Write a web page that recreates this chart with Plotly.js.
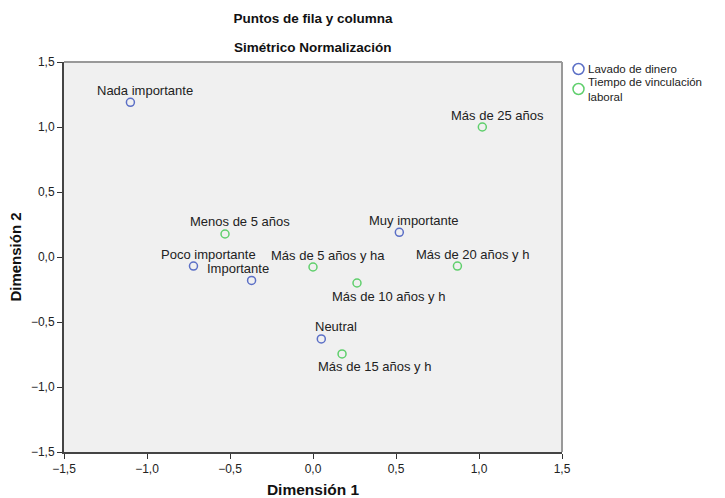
<!DOCTYPE html>
<html>
<head>
<meta charset="utf-8">
<script src="https://cdn.plot.ly/plotly-3.0.1.min.js"></script>
<style>html,body{margin:0;padding:0;background:#fff;}#chart{width:725px;height:498px;}</style>
</head>
<body>
<div id="chart"></div>
<script>
// Row points: Lavado de dinero
const rowLabels = ['Nada importante', 'Poco importante', 'Importante', 'Neutral', 'Muy importante'];
const rowX = [-1.10, -0.72, -0.37, 0.05, 0.52];
const rowY = [1.19, -0.07, -0.18, -0.63, 0.19];
// Column points: Tiempo de vinculación laboral
const colLabels = ['Menos de 5 años', 'Más de 5 años y ha', 'Más de 10 años y h', 'Más de 15 años y h', 'Más de 20 años y h', 'Más de 25 años'];
const colX = [-0.53, 0.00, 0.265, 0.175, 0.87, 1.02];
const colY = [0.177, -0.077, -0.20, -0.746, -0.07, 1.00];
// Axis ticks
const tickVals = [-1.5, -1.0, -0.5, 0.0, 0.5, 1.0, 1.5];
// Legend entries
const seriesNames = ['Lavado de dinero', 'Tiempo de vinculación laboral'];

// label placement styles (pixel offsets)
const rowLabelPos = ['above', 'above', 'aboveLeft', 'above', 'above'];
const colLabelPos = ['above', 'above', 'below', 'below', 'above', 'above'];
const shifts = {above: [15, 12], below: [32, -13], aboveLeft: [-14, 12]};

const blue = '#5b6fc6';
const green = '#5fcf6c';
const FONT = 'Liberation Sans, Arial, sans-serif';
const labelFont = {family: FONT, size: 13, color: '#222'};

function makeAnn(xs, ys, labels, pos) {
  return labels.map((t, i) => ({
    x: xs[i], y: ys[i], xref: 'x', yref: 'y', text: t, showarrow: false,
    xanchor: 'center', yanchor: 'middle',
    xshift: shifts[pos[i]][0], yshift: shifts[pos[i]][1],
    font: labelFont
  }));
}

const traces = [
  {x: rowX, y: rowY, mode: 'markers', type: 'scatter', name: seriesNames[0], showlegend: false,
   marker: {symbol: 'circle-open', size: 8, color: blue, line: {width: 1.5, color: blue}}, cliponaxis: false},
  {x: colX, y: colY, mode: 'markers', type: 'scatter', name: seriesNames[1], showlegend: false,
   marker: {symbol: 'circle-open', size: 8, color: green, line: {width: 1.5, color: green}}, cliponaxis: false}
];

const axisCommon = {
  range: [-1.5, 1.5], tickvals: tickVals, tickformat: '.1f',
  ticks: 'outside', ticklen: 5, tickcolor: '#333', tickwidth: 1,
  showgrid: false, zeroline: false, showline: true, linecolor: '#444', linewidth: 2,
  tickfont: {family: FONT, size: 12, color: '#222'},
  fixedrange: true
};

// custom legend (tight symbol/text spacing like the original)
const legendCircle = (dy, color) => ({
  type: 'circle', xref: 'paper', yref: 'paper', xsizemode: 'pixel', ysizemode: 'pixel',
  xanchor: 1, yanchor: 1, x0: 11, x1: 22, y0: dy - 5.5, y1: dy + 5.5,
  line: {color: color, width: 1.5}, fillcolor: 'rgba(0,0,0,0)'
});
const legendText = (text, dy) => ({
  text: text, xref: 'paper', yref: 'paper', x: 1, y: 1, xshift: 24, yshift: dy,
  xanchor: 'left', yanchor: 'middle', showarrow: false, align: 'left',
  font: {family: FONT, size: 11.5, color: '#222'}
});
const nameParts = seriesNames[1].split(' ');

const layout = {
  width: 725, height: 498,
  margin: {l: 64, r: 163, t: 62, b: 46},
  paper_bgcolor: '#ffffff', plot_bgcolor: '#f0f0f0',
  separators: ',.',
  showlegend: false,
  title: {text: 'Puntos de fila y columna', x: 0.5, xanchor: 'center', xref: 'paper',
    y: 1 - 18 / 498, yref: 'container', yanchor: 'middle',
    font: {family: FONT, size: 13.5, color: '#111', weight: 'bold'}},
  xaxis: Object.assign({}, axisCommon, {
    title: {text: 'Dimensión 1', standoff: 9, font: {family: FONT, size: 15.5, color: '#111', weight: 'bold'}}
  }),
  yaxis: Object.assign({}, axisCommon, {
    title: {text: 'Dimensión 2', standoff: 6, font: {family: 'Liberation Sans Narrow, Arial Narrow, Liberation Sans, sans-serif', size: 15, color: '#111', weight: 'bold'}}
  }),
  shapes: [
    {type: 'line', xref: 'paper', yref: 'paper', x0: 0, x1: 1, y0: 1, y1: 1, line: {color: '#999', width: 2}},
    {type: 'line', xref: 'paper', yref: 'paper', x0: 1, x1: 1, y0: 0, y1: 1, line: {color: '#999', width: 2}},
    legendCircle(-7, blue),
    legendCircle(-27, green)
  ],
  annotations: [
    {text: 'Simétrico Normalización', xref: 'paper', yref: 'paper', x: 0.5, y: 1, yshift: 15,
     xanchor: 'center', yanchor: 'middle', showarrow: false,
     font: {family: FONT, size: 13.5, color: '#111', weight: 'bold'}},
    legendText(seriesNames[0], -7),
    legendText(nameParts.slice(0, 3).join(' ') + '<br>' + nameParts.slice(3).join(' '), -27)
  ].concat(makeAnn(rowX, rowY, rowLabels, rowLabelPos), makeAnn(colX, colY, colLabels, colLabelPos))
};

Plotly.newPlot('chart', traces, layout, {displayModeBar: false, staticPlot: true});
</script>
</body>
</html>
